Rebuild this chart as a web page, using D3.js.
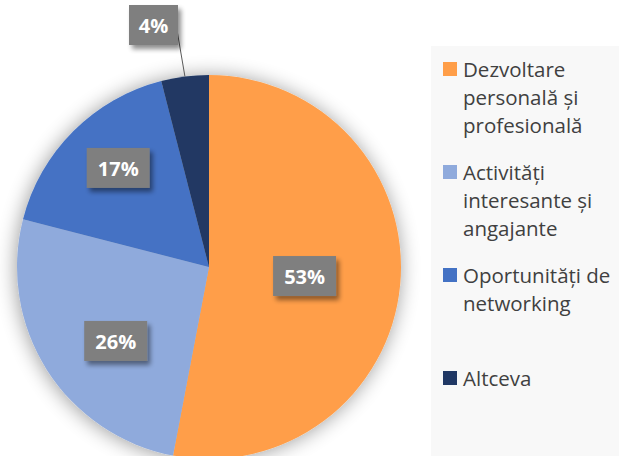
<!DOCTYPE html>
<html>
<head>
<meta charset="utf-8">
<script src="https://cdn.jsdelivr.net/npm/d3@7"></script>
<style>
  html, body { margin: 0; padding: 0; background: #ffffff; }
  svg { display: block; }
</style>
</head>
<body>
<svg id="chart" width="619" height="456"></svg>
<script>
// Survey answers and their shares (%)
const categories = [
  "Dezvoltare personală și profesională",
  "Activități interesante și angajante",
  "Oportunități de networking",
  "Altceva"
];
const values = [53, 26, 17, 4];
const legendLines = [
  ["Dezvoltare", "personală și", "profesională"],
  ["Activități", "interesante și", "angajante"],
  ["Oportunități de", "networking"],
  ["Altceva"]
];
const colors = ["#FF9E48", "#8FAADC", "#4472C4", "#203864"];

// Label placement: radius fraction and angle nudge (degrees) per slice
const labelLayout = [
  { r: 0.50, da: 0 },
  { r: 0.62, da: -6 },
  { r: 0.70, da: 2.5 },
  { outside: true, x: 153.5, y: 25 }
];

const svg = d3.select("#chart");
const W = 619, H = 456;
const cx = 209, cy = 267, R = 192;

const defs = svg.append("defs");
const pieShadow = defs.append("filter").attr("id", "pieShadow")
  .attr("x", "-30%").attr("y", "-30%").attr("width", "160%").attr("height", "160%");
pieShadow.append("feGaussianBlur").attr("in", "SourceAlpha").attr("stdDeviation", 10).attr("result", "b");
pieShadow.append("feOffset").attr("in", "b").attr("dx", -1).attr("dy", 1).attr("result", "o");
pieShadow.append("feComponentTransfer").attr("in", "o").attr("result", "s")
  .append("feFuncA").attr("type", "linear").attr("slope", 0.4);
const m1 = pieShadow.append("feMerge");
m1.append("feMergeNode").attr("in", "s");
m1.append("feMergeNode").attr("in", "SourceGraphic");

const boxShadow = defs.append("filter").attr("id", "boxShadow")
  .attr("x", "-30%").attr("y", "-30%").attr("width", "160%").attr("height", "160%");
boxShadow.append("feGaussianBlur").attr("in", "SourceAlpha").attr("stdDeviation", 2.5).attr("result", "b");
boxShadow.append("feOffset").attr("in", "b").attr("dx", 3).attr("dy", 4).attr("result", "o");
boxShadow.append("feComponentTransfer").attr("in", "o").attr("result", "s")
  .append("feFuncA").attr("type", "linear").attr("slope", 0.45);
const m2 = boxShadow.append("feMerge");
m2.append("feMergeNode").attr("in", "s");
m2.append("feMergeNode").attr("in", "SourceGraphic");

// Legend panel
const legendX = 431;
svg.append("rect")
  .attr("x", legendX).attr("y", 46)
  .attr("width", W - legendX).attr("height", H - 46)
  .attr("fill", "#F8F8F8");

// Pie
const pie = d3.pie().value(d => d).sort(null);
const arcs = pie(values);
const arc = d3.arc().innerRadius(0).outerRadius(R);

const g = svg.append("g").attr("transform", `translate(${cx},${cy})`);
g.append("g").attr("filter", "url(#pieShadow)")
  .selectAll("path").data(arcs).join("path")
  .attr("d", arc)
  .attr("fill", (d, i) => colors[i]);

// Leader line for the small slice
const small = arcs[3];
const smallMid = (small.startAngle + small.endAngle) / 2;
const lab3 = labelLayout[3];
g.append("line")
  .attr("x1", lab3.x - cx + 24).attr("y1", lab3.y - cy + 8)
  .attr("x2", R * Math.sin(smallMid)).attr("y2", -R * Math.cos(smallMid))
  .attr("stroke", "#595959").attr("stroke-width", 1);

// Data labels
const fmt = v => v + "%";
arcs.forEach((d, i) => {
  const L = labelLayout[i];
  let x, y;
  if (L.outside) {
    x = L.x - cx; y = L.y - cy;
  } else {
    const a = (d.startAngle + d.endAngle) / 2 + L.da * Math.PI / 180;
    x = L.r * R * Math.sin(a);
    y = -L.r * R * Math.cos(a);
  }
  const bw = values[i] >= 10 ? 63 : 49, bh = 40;
  const lg = g.append("g").attr("transform", `translate(${x},${y})`);
  lg.append("rect")
    .attr("x", -bw / 2).attr("y", -bh / 2)
    .attr("width", bw).attr("height", bh)
    .attr("fill", "#7F7F7F")
    .attr("filter", "url(#boxShadow)");
  lg.append("text")
    .attr("text-anchor", "middle")
    .attr("dominant-baseline", "central")
    .attr("y", 0.5)
    .attr("fill", "#ffffff")
    .attr("font-family", "'Open Sans', 'DejaVu Sans', sans-serif")
    .attr("font-weight", "bold")
    .attr("font-size", 20)
    .text(fmt(values[i]));
});

// Legend entries
const legendTops = [69, 172, 275, 378];
const lineH = 28;
const lgd = svg.append("g");
categories.forEach((c, i) => {
  const yc = legendTops[i];
  lgd.append("rect")
    .attr("x", 443).attr("y", yc - 7)
    .attr("width", 14).attr("height", 14)
    .attr("fill", colors[i]);
  const t = lgd.append("text")
    .attr("x", 463)
    .attr("font-family", "'Open Sans', 'DejaVu Sans', sans-serif")
    .attr("font-size", 20.5)
    .attr("fill", "#404040");
  legendLines[i].forEach((ln, k) => {
    t.append("tspan")
      .attr("x", 463)
      .attr("y", yc + 7.5 + k * lineH)
      .text(ln);
  });
});
</script>
</body>
</html>
